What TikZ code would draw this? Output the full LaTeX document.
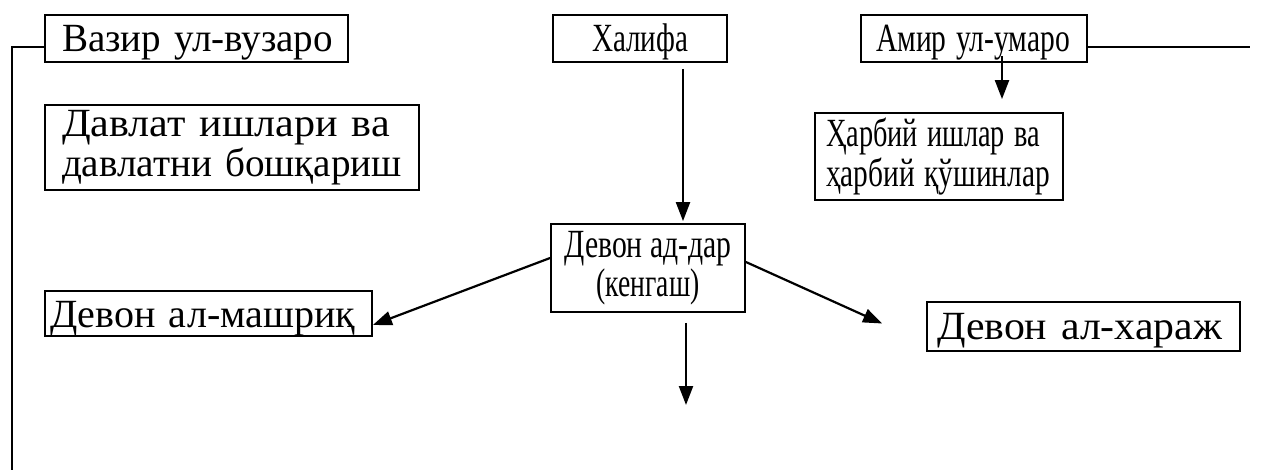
\documentclass[tikz,border=0pt]{standalone}
\usepackage{fontspec}
\usepackage{graphicx}
\setmainfont{Liberation Serif}
\usetikzlibrary{arrows.meta,calc}
\newcommand{\tw}[2]{\resizebox{#1}{\height}{#2}}
\begin{document}
\begin{tikzpicture}[x=1pt,y=-1pt,
  box/.style={draw,line width=1.8pt,inner ysep=0pt,font=\fontsize{40}{39.5}\selectfont},
  lbox/.style={box,align=left},
  one/.style={text height=36pt,text depth=9pt},
  cbox/.style={box,align=center,inner xsep=0pt},
  conn/.style={line width=1.6pt},
  arr/.style={line width=2.2pt,-{Triangle[length=19pt,width=14pt]}}]
\useasboundingbox (0,0) rectangle (1261,470);
\node[lbox,one,minimum width=303pt,minimum height=47pt,inner xsep=17pt,text width=269pt] (vazir) at (196.5,38.5) {\tw{271pt}{Вазир ул-вузаро}};
\node[lbox,minimum width=374pt,minimum height=85pt,inner xsep=17pt,text width=340pt] (davlat) at (232,147.5) {\tw{328pt}{Давлат ишлари ва}\\\tw{340pt}{давлатни бошқариш}};
\node[cbox,one,minimum width=174pt,minimum height=47pt] (xalifa) at (640,38.5) {\tw{96pt}{Халифа}};
\node[lbox,one,minimum width=226pt,minimum height=47pt,inner xsep=15pt,text width=196pt] (amir) at (974,38.5) {\tw{194pt}{Амир ул-умаро}};
\node[lbox,minimum width=248pt,minimum height=87pt,inner xsep=11pt,text width=226pt] (harbiy) at (939,156.5) {\tw{214pt}{Ҳарбий ишлар ва}\\\tw{224pt}{ҳарбий қўшинлар}};
\node[cbox,minimum width=194pt,minimum height=88pt] (devon) at (648,268) {\tw{167pt}{Девон ад-дар}\\\tw{103pt}{(кенгаш)}};
\node[lbox,one,minimum width=327pt,minimum height=45pt,inner xsep=5pt,text width=317pt] (mashriq) at (208.5,313.5) {\tw{305pt}{Девон ал-машриқ}};
\node[lbox,one,minimum width=313pt,minimum height=49pt,inner xsep=10pt,text width=293pt] (xaraj) at (1083.5,326.5) {\tw{285pt}{Девон ал-хараж}};
\coordinate (vl1) at (12,47);
\coordinate (vl2) at (12,470);
\coordinate (ar) at (1250,47);
\coordinate (bot) at (686,405);
\draw[conn] ([yshift=-8.5pt]vazir.west) -- (vl1) -- (vl2);
\draw[conn] ([yshift=-8.5pt]amir.east) -- (ar);
\draw[arr] ([xshift=43pt,yshift=-6pt]xalifa.south) -- ([xshift=35pt,yshift=2pt]devon.north);
\draw[arr] ([xshift=28pt,yshift=7pt]amir.south) -- ([xshift=63pt,yshift=13pt]harbiy.north);
\draw[arr] ([yshift=10pt]devon.west) -- ([yshift=-11.5pt]mashriq.east);
\draw[arr] ([yshift=6pt]devon.east) -- ([xshift=-44pt,yshift=3pt]xaraj.west);
\draw[arr] ([xshift=38pt,yshift=-10pt]devon.south) -- (bot);
\end{tikzpicture}
\end{document}
